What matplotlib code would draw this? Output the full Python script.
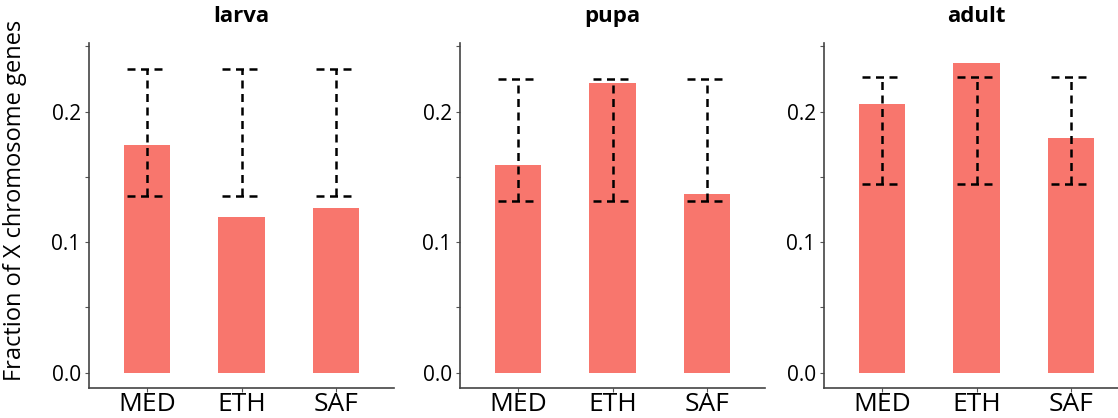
"""Fraction of X chromosome genes per population, by life stage."""

import numpy as np
from matplotlib import pyplot as plt
from matplotlib.ticker import MultipleLocator

stages = ["larva", "pupa", "adult"]
populations = ["MED", "ETH", "SAF"]

# bar heights per stage
fractions = {
    "larva": [0.174, 0.119, 0.126],
    "pupa": [0.159, 0.222, 0.137],
    "adult": [0.206, 0.237, 0.180],
}
# dashed interval (lower, upper) per stage, same for every population
interval_low = {"larva": 0.1355, "pupa": 0.1315, "adult": 0.1443}
interval_high = {"larva": 0.2328, "pupa": 0.2251, "adult": 0.2261}

plt.rcParams["font.family"] = ["Open Sans", "DejaVu Sans"]

fig = plt.figure(figsize=(11.18, 4.18), dpi=100)
lefts = [89 / 1118, 460 / 1118, 824 / 1118]
bottom, height = 1 - 388 / 418, (388 - 43) / 418
width = 305 / 1118

x = np.arange(len(populations)) + 1
for stage, left in zip(stages, lefts):
    ax = fig.add_axes([left, bottom, width, height])
    ax.bar(x, fractions[stage], width=0.49, color="#F8766D", zorder=1)

    lo = np.full(len(x), interval_low[stage])
    hi = np.full(len(x), interval_high[stage])
    dash = dict(colors="black", linestyles=(0, (3.2, 2.2)), linewidth=1.8, zorder=3)
    ax.vlines(x, lo, hi, **dash)
    ax.hlines(lo, x - 0.21, x + 0.21, **dash)
    ax.hlines(hi, x - 0.21, x + 0.21, **dash)

    ax.set_xlim(0.39, 3.61)
    ax.set_ylim(-0.0118, 0.2525)
    ax.set_xticks(x)
    ax.set_xticklabels(populations, fontsize=19)
    ax.yaxis.set_major_locator(MultipleLocator(0.1))
    ax.yaxis.set_minor_locator(MultipleLocator(0.05))
    ax.set_yticklabels([f"{v:.1f}" for v in ax.get_yticks()], fontsize=15)
    ax.tick_params(axis="both", which="both", length=3, width=0.8, color="#555555")
    ax.tick_params(axis="x", pad=0)
    ax.tick_params(axis="y", pad=3)
    for side in ("top", "right"):
        ax.spines[side].set_visible(False)
    for side in ("left", "bottom"):
        ax.spines[side].set_color("#444444")
        ax.spines[side].set_linewidth(1.2)
    ax.set_title(stage, fontsize=16, fontweight="bold", pad=15)

fig.text(15 / 1118, 0.52, "Fraction of X chromosome genes", rotation=90,
         va="center", ha="center", fontsize=17)

fig.savefig("out.png", dpi=100)
